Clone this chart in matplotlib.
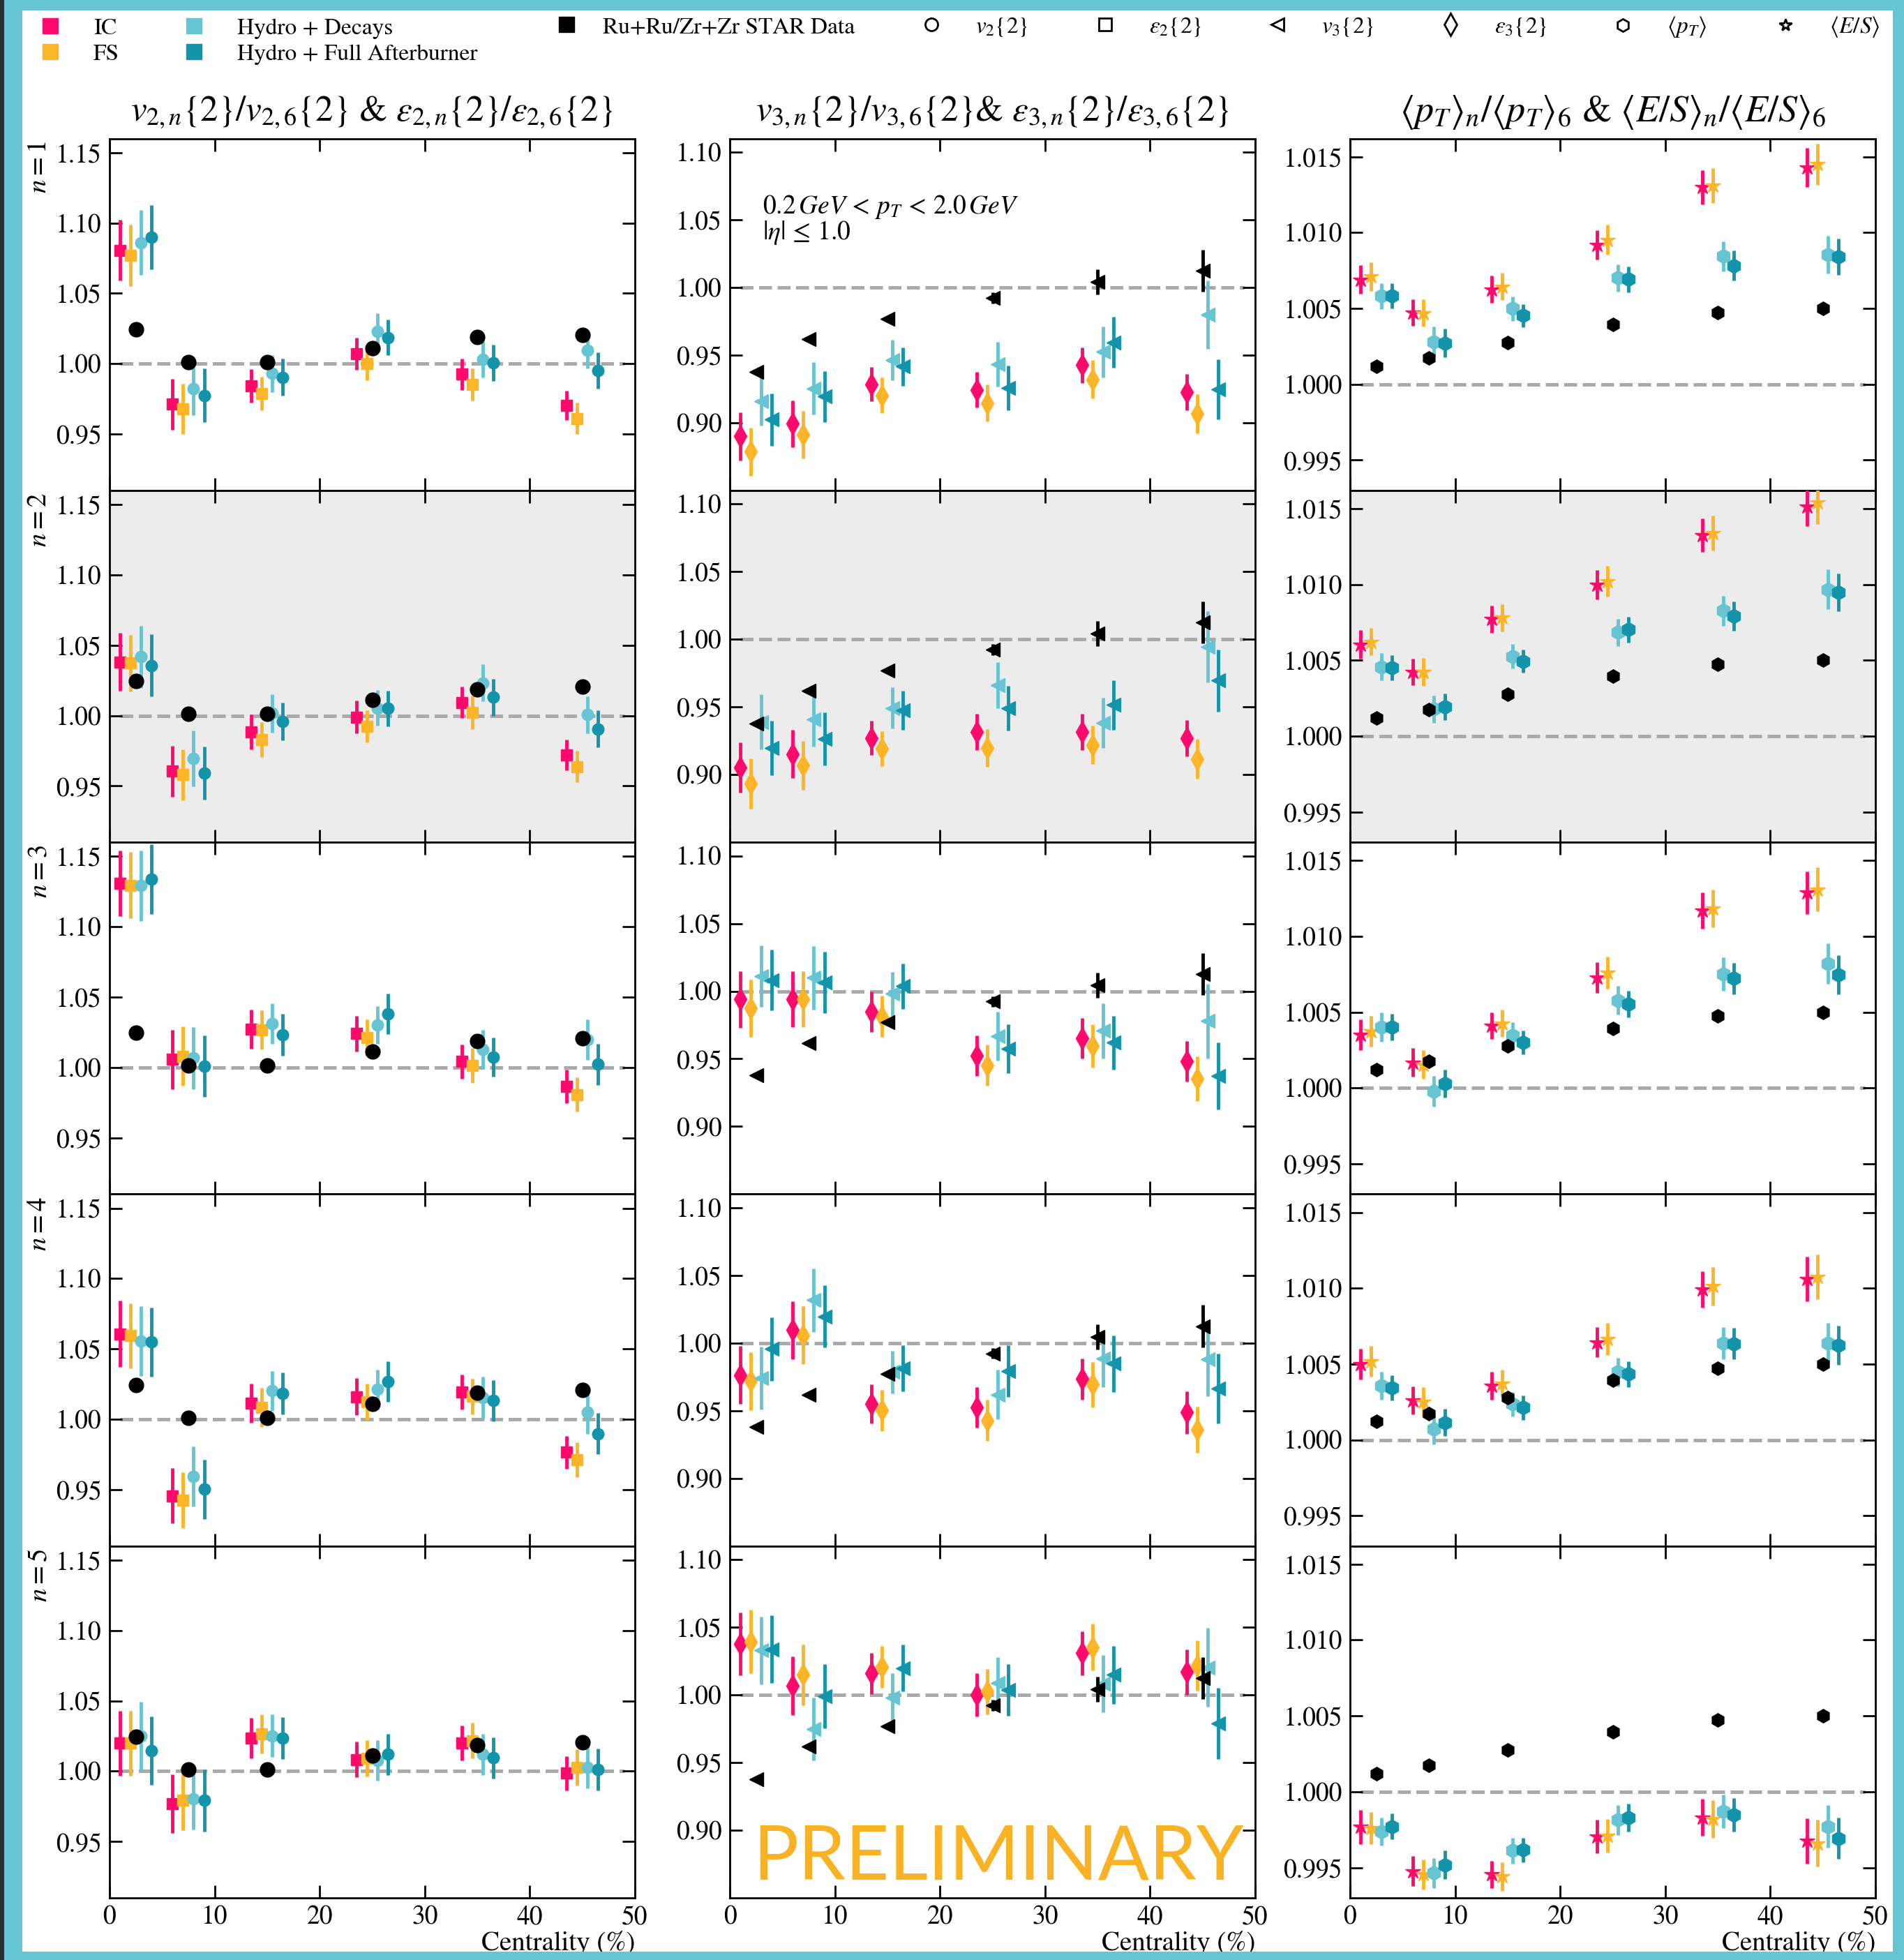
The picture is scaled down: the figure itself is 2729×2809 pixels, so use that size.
import numpy as np
import matplotlib
matplotlib.use("Agg")
import matplotlib.pyplot as plt
from matplotlib.lines import Line2D
from matplotlib.patches import Rectangle

plt.rcParams["font.family"] = "STIXGeneral"
plt.rcParams["mathtext.fontset"] = "stix"

# ── colours ───────────────────────────────────────────────────────────────────
C_IC, C_FS = "#ff0a6c", "#fdb528"
C_DEC, C_FULL = "#67c5d3", "#1494aa"
C_FRAME = "#66c5d3"

# ── data: centrality bins and per-row (n=1..5) values ─────────────────────────
CENT = [2.5, 7.5, 15, 25, 35, 45]
OFFS = [-1.5, -0.5, 0.5, 1.5]          # IC, FS, Decays, Full

# column 1: eps2 (IC, FS) and v2 (hydro)
E2_IC = [[1.0807, 0.9713, 0.9842, 1.0070, 0.9925, 0.9704],
         [1.0382, 0.9605, 0.9883, 0.9990, 1.0094, 0.9721],
         [1.1308, 1.0058, 1.0273, 1.0240, 1.0042, 0.9867],
         [1.0608, 0.9458, 1.0115, 1.0161, 1.0192, 0.9766],
         [1.0200, 0.9769, 1.0235, 1.0084, 1.0200, 0.9986]]
E2_IC_ERR = [[0.0217, 0.018, 0.012, 0.0115, 0.011, 0.0105],
             [0.0205, 0.018, 0.0125, 0.0117, 0.011, 0.011],
             [0.0235, 0.021, 0.014, 0.0127, 0.0123, 0.0118],
             [0.0236, 0.0198, 0.0138, 0.013, 0.0124, 0.0115],
             [0.023, 0.021, 0.0142, 0.0128, 0.0123, 0.0122]]
E2_FS = [[1.0770, 0.9680, 0.9788, 1.0000, 0.9852, 0.9612],
         [1.0373, 0.9580, 0.9831, 0.9925, 1.0023, 0.9637],
         [1.1295, 1.0080, 1.0266, 1.0214, 1.0013, 0.9808],
         [1.0594, 0.9427, 1.0084, 1.0126, 1.0164, 0.9713],
         [1.0200, 0.9793, 1.0266, 1.0091, 1.0217, 1.0028]]
E2_FS_ERR = [[0.0216, 0.018, 0.012, 0.0117, 0.0115, 0.011],
             [0.020, 0.018, 0.0123, 0.0115, 0.0118, 0.0112],
             [0.0234, 0.021, 0.014, 0.0128, 0.0125, 0.0122],
             [0.0232, 0.0198, 0.0138, 0.013, 0.0126, 0.0126],
             [0.023, 0.021, 0.014, 0.013, 0.0126, 0.013]]
V2_DEC = [[1.0860, 0.9825, 0.9930, 1.0229, 1.0030, 1.0095],
          [1.0418, 0.9695, 1.0016, 1.0055, 1.0233, 1.0006],
          [1.1292, 1.0068, 1.0312, 1.0302, 1.0130, 1.0198],
          [1.0556, 0.9594, 1.0203, 1.0213, 1.0154, 1.0049],
          [1.0249, 0.9804, 1.0252, 1.0077, 1.0119, 1.0025]]
V2_DEC_ERR = [[0.023, 0.019, 0.013, 0.0128, 0.0128, 0.0126],
              [0.022, 0.020, 0.0138, 0.0126, 0.013, 0.013],
              [0.025, 0.022, 0.0146, 0.0135, 0.0138, 0.0146],
              [0.0246, 0.0215, 0.0142, 0.0142, 0.0147, 0.015],
              [0.0245, 0.022, 0.015, 0.0144, 0.0147, 0.0149]]
V2_FULL = [[1.0899, 0.9776, 0.9905, 1.0187, 1.0006, 0.9952],
           [1.0356, 0.9592, 0.9958, 1.0052, 1.0130, 0.9906],
           [1.1338, 1.0010, 1.0234, 1.0380, 1.0075, 1.0023],
           [1.0549, 0.9503, 1.0185, 1.0269, 1.0133, 0.9899],
           [1.0147, 0.9793, 1.0235, 1.0119, 1.0095, 1.0011]]
V2_FULL_ERR = [[0.023, 0.019, 0.013, 0.0127, 0.0128, 0.0128],
               [0.022, 0.019, 0.0135, 0.0126, 0.013, 0.013],
               [0.025, 0.022, 0.0148, 0.0143, 0.014, 0.0145],
               [0.0246, 0.021, 0.0149, 0.0143, 0.0145, 0.0145],
               [0.0242, 0.022, 0.015, 0.0144, 0.0145, 0.0149]]
V2_STAR = [1.0245, 1.0013, 1.0013, 1.0112, 1.0188, 1.0207]

# column 2: eps3 (IC, FS) and v3 (hydro)
E3_IC = [[0.8899, 0.8993, 0.9284, 0.9243, 0.9426, 0.9226],
         [0.9051, 0.9153, 0.9271, 0.9315, 0.9315, 0.9271],
         [0.9939, 0.9939, 0.9847, 0.9524, 0.9653, 0.9480],
         [0.9762, 1.0095, 0.9551, 0.9524, 0.9735, 0.9486],
         [1.0378, 1.0068, 1.0158, 1.0002, 1.0308, 1.0168]]
E3_IC_ERR = [[0.0178, 0.0172, 0.0127, 0.0132, 0.0132, 0.0132],
             [0.0186, 0.0178, 0.0127, 0.0134, 0.0134, 0.0134],
             [0.021, 0.0206, 0.0148, 0.015, 0.0148, 0.015],
             [0.0214, 0.0214, 0.0145, 0.0151, 0.0153, 0.0155],
             [0.0233, 0.0217, 0.0154, 0.0159, 0.0162, 0.0167]]
E3_FS = [[0.8787, 0.8912, 0.9203, 0.9145, 0.9321, 0.9068],
         [0.8932, 0.9068, 0.9193, 0.9197, 0.9220, 0.9115],
         [0.9874, 0.9939, 0.9813, 0.9452, 0.9595, 0.9354],
         [0.9718, 1.0058, 0.9503, 0.9429, 0.9694, 0.9360],
         [1.0394, 1.0148, 1.0208, 1.0024, 1.0352, 1.0218]]
E3_FS_ERR = [[0.0177, 0.0174, 0.013, 0.0137, 0.0142, 0.0145],
             [0.0186, 0.0178, 0.013, 0.014, 0.0141, 0.0147],
             [0.021, 0.0207, 0.0151, 0.0153, 0.0158, 0.0165],
             [0.0214, 0.0213, 0.0153, 0.0153, 0.0167, 0.017],
             [0.0234, 0.0225, 0.0155, 0.0167, 0.0173, 0.0185]]
V3_DEC = [[0.9159, 0.9253, 0.9463, 0.9432, 0.9524, 0.9797],
          [0.9390, 0.9407, 0.9492, 0.9661, 0.9383, 0.9946],
          [1.0112, 1.0099, 0.9980, 0.9667, 0.9707, 0.9779],
          [0.9741, 1.0316, 0.9786, 0.9619, 0.9884, 0.9878],
          [1.0328, 0.9748, 0.9982, 1.0088, 1.0082, 1.0204]]
V3_DEC_ERR = [[0.018, 0.0193, 0.0149, 0.0166, 0.0188, 0.0253],
              [0.0203, 0.0198, 0.0153, 0.017, 0.0185, 0.0263],
              [0.0228, 0.0235, 0.0162, 0.0179, 0.0204, 0.0276],
              [0.023, 0.0236, 0.0158, 0.0182, 0.0209, 0.0272],
              [0.025, 0.023, 0.018, 0.019, 0.0212, 0.029]]
V3_FULL = [[0.9024, 0.9193, 0.9416, 0.9257, 0.9595, 0.9247],
           [0.9197, 0.9264, 0.9475, 0.9492, 0.9515, 0.9695],
           [1.0082, 1.0065, 1.0037, 0.9575, 0.9619, 0.9374],
           [0.9956, 1.0197, 0.9813, 0.9793, 0.9847, 0.9663],
           [1.0338, 0.9988, 1.0198, 1.0038, 1.0148, 0.9788]]
V3_FULL_ERR = [[0.0194, 0.019, 0.0142, 0.0164, 0.0186, 0.0223],
               [0.02, 0.0195, 0.0146, 0.0166, 0.0183, 0.0229],
               [0.0223, 0.0228, 0.0167, 0.018, 0.02, 0.0248],
               [0.0235, 0.023, 0.017, 0.0189, 0.0207, 0.0258],
               [0.0248, 0.0237, 0.0174, 0.019, 0.0213, 0.0263]]
V3_STAR = [0.9378, 0.9618, 0.9770, 0.9923, 1.0043, 1.0125]
V3_STAR_ERR = [0.001, 0.0012, 0.0015, 0.004, 0.0093, 0.0155]

# column 3: <E/S> (IC, FS) and <pT> (hydro)
ES_IC = [[1.00690, 1.00472, 1.00626, 1.00917, 1.01300, 1.01430],
         [1.00605, 1.00423, 1.00771, 1.00998, 1.01325, 1.01515],
         [1.00351, 1.00169, 1.00411, 1.00729, 1.01168, 1.01289],
         [1.00499, 1.00260, 1.00357, 1.00644, 1.00992, 1.01059],
         [0.99768, 0.99477, 0.99455, 0.99705, 0.99830, 0.99675]]
ES_IC_ERR = [[0.00095, 0.00088, 0.0009, 0.00097, 0.00112, 0.0013],
             [0.00095, 0.00088, 0.0009, 0.00095, 0.0011, 0.0013],
             [0.001, 0.00094, 0.00088, 0.001, 0.0012, 0.0014],
             [0.001, 0.0009, 0.0009, 0.001, 0.0012, 0.00147],
             [0.00112, 0.00097, 0.00091, 0.00109, 0.00122, 0.0015]]
ES_FS = [[1.00710, 1.00469, 1.00644, 1.00953, 1.01310, 1.01452],
         [1.00623, 1.00423, 1.00780, 1.01022, 1.01340, 1.01540],
         [1.00375, 1.00154, 1.00426, 1.00759, 1.01183, 1.01310],
         [1.00517, 1.00251, 1.00372, 1.00665, 1.01013, 1.01074],
         [0.99759, 0.99455, 0.99441, 0.99709, 0.99821, 0.99661]]
ES_FS_ERR = [[0.00094, 0.0009, 0.0009, 0.001, 0.00114, 0.00136],
             [0.0009, 0.0009, 0.0009, 0.001, 0.00115, 0.0014],
             [0.001, 0.00095, 0.0009, 0.00105, 0.00125, 0.00145],
             [0.001, 0.00095, 0.0009, 0.00106, 0.00125, 0.00148],
             [0.00105, 0.001, 0.00094, 0.00112, 0.00125, 0.00154]]
PT_DEC = [[1.00581, 1.00281, 1.00499, 1.00702, 1.00844, 1.00853],
          [1.00457, 1.00178, 1.00526, 1.00684, 1.00826, 1.00968],
          [1.00402, 0.99979, 1.00345, 1.00578, 1.00750, 1.00820],
          [1.00357, 1.00070, 1.00236, 1.00448, 1.00638, 1.00638],
          [0.99736, 0.99464, 0.99611, 0.99813, 0.99870, 0.99771]]
PT_DEC_ERR = [[0.00087, 0.00098, 0.0008, 0.0009, 0.001, 0.00124],
              [0.0009, 0.0009, 0.0008, 0.0009, 0.001, 0.0013],
              [0.00095, 0.001, 0.00088, 0.00094, 0.0011, 0.00133],
              [0.0009, 0.001, 0.0008, 0.00094, 0.00106, 0.00135],
              [0.00092, 0.001, 0.00085, 0.00098, 0.00112, 0.00142]]
PT_FULL = [[1.00584, 1.00272, 1.00454, 1.00693, 1.00783, 1.00841],
           [1.00451, 1.00194, 1.00493, 1.00702, 1.00790, 1.00947],
           [1.00402, 1.00027, 1.00300, 1.00554, 1.00723, 1.00747],
           [1.00342, 1.00115, 1.00212, 1.00433, 1.00635, 1.00623],
           [0.99771, 0.99518, 0.99616, 0.99830, 0.99848, 0.99693]]
PT_FULL_ERR = [[0.00083, 0.00095, 0.00076, 0.00085, 0.00098, 0.0012],
               [0.00083, 0.00087, 0.00076, 0.00085, 0.00097, 0.00125],
               [0.00086, 0.00092, 0.00079, 0.00087, 0.00104, 0.00128],
               [0.00083, 0.0009, 0.0008, 0.00085, 0.00103, 0.00129],
               [0.00085, 0.00094, 0.0008, 0.00093, 0.0011, 0.00137]]
PT_STAR = [1.00120, 1.00174, 1.00277, 1.00394, 1.00473, 1.00500]

COL_TITLES = [
    r"$v_{2,n}\{2\}/v_{2,6}\{2\}$ & $\varepsilon_{2,n}\{2\}/\varepsilon_{2,6}\{2\}$",
    r"$v_{3,n}\{2\}/v_{3,6}\{2\}$& $\varepsilon_{3,n}\{2\}/\varepsilon_{3,6}\{2\}$",
    r"$\langle p_T\rangle_n/\langle p_T\rangle_6$ & $\langle E/S\rangle_n/\langle E/S\rangle_6$",
]
TITLE_SIZES = [37, 37, 39]
YLIMS = [(0.91, 1.16), (0.85, 1.11), (0.993, 1.0162)]
YTICKS = [[0.95, 1.00, 1.05, 1.10, 1.15],
          [0.90, 0.95, 1.00, 1.05, 1.10],
          [0.995, 1.000, 1.005, 1.010, 1.015]]
YFMT = ["{:.2f}", "{:.2f}", "{:.3f}"]

# per column: (model arrays, model markers, STAR values, STAR errors, STAR marker)
COLUMNS = [
    ([(E2_IC, E2_IC_ERR), (E2_FS, E2_FS_ERR), (V2_DEC, V2_DEC_ERR), (V2_FULL, V2_FULL_ERR)],
     ["s", "s", "o", "o"], [12, 12, 12, 12], V2_STAR, None, "o", 15),
    ([(E3_IC, E3_IC_ERR), (E3_FS, E3_FS_ERR), (V3_DEC, V3_DEC_ERR), (V3_FULL, V3_FULL_ERR)],
     ["d", "d", "<", "<"], [16, 16, 15, 15], V3_STAR, V3_STAR_ERR, "<", 15),
    ([(ES_IC, ES_IC_ERR), (ES_FS, ES_FS_ERR), (PT_DEC, PT_DEC_ERR), (PT_FULL, PT_FULL_ERR)],
     ["*", "*", "h", "h"], [16, 16, 15, 15], PT_STAR, None, "h", 14),
]
MODEL_COLORS = [C_IC, C_FS, C_DEC, C_FULL]

# ── layout (figure fractions) ─────────────────────────────────────────────────
W, H = 2729, 2809
fig = plt.figure(figsize=(W / 100, H / 100), dpi=100)
fig.patch.set_facecolor("white")

LEFTS = [157 / W, 1046 / W, 1935 / W]
AX_W = 753 / W
BOTTOM = 1 - 2720 / H
ROW_H = (2720 - 198.6) / 5 / H

cent = np.array(CENT)
for c, (models, markers, msizes, star, star_err, star_mk, star_ms) in enumerate(COLUMNS):
    for r in range(5):
        ax = fig.add_axes([LEFTS[c], BOTTOM + (4 - r) * ROW_H, AX_W, ROW_H])
        if r == 1:
            ax.set_facecolor("#ececec")
        ax.plot([1, 49], [1, 1], ls="--", color="#aaaaaa", lw=3.6, zorder=1)
        for k, ((vals, errs), col) in enumerate(zip(models, MODEL_COLORS)):
            ax.errorbar(cent + OFFS[k], vals[r], yerr=errs[r], fmt=markers[k],
                        color=col, mec=col, ms=msizes[k], elinewidth=3.5,
                        capsize=0, zorder=3 + k)
        ax.errorbar(cent, star, yerr=star_err, fmt=star_mk, color="black",
                    ms=star_ms, elinewidth=3.5, capsize=0, zorder=10)

        ax.set_xlim(0, 50)
        ax.set_ylim(*YLIMS[c])
        ax.set_xticks([0, 10, 20, 30, 40, 50])
        ax.set_yticks(YTICKS[c])
        ax.set_yticklabels([YFMT[c].format(v) for v in YTICKS[c]])
        ax.tick_params(direction="in", length=13, width=2, top=True, right=True,
                       labelsize=27, pad=8)
        for s in ax.spines.values():
            s.set_linewidth(2)
        if r < 4:
            ax.tick_params(labelbottom=False)
        else:
            ax.set_xlabel("Centrality (%)", loc="right", fontsize=28, labelpad=1)
        if r == 0:
            ax.text(0.5, 1 + (198.6 - 161) / 504, COL_TITLES[c], transform=ax.transAxes,
                    ha="center", va="center", fontsize=TITLE_SIZES[c])
        if c == 0:
            ax.text(-0.133, 0.993, rf"$n={r + 1}$", transform=ax.transAxes,
                    rotation=90, ha="center", va="top", fontsize=28)
        if c == 1 and r == 0:
            ax.text(0.062, 0.845, r"$0.2\,GeV\,<\,p_T\,<\,2.0\,GeV$" + "\n" + r"$|\eta|\,\leq\,1.0$",
                    transform=ax.transAxes, ha="left", va="top", fontsize=27,
                    linespacing=0.95)
        if c == 1 and r == 4:
            ax.text(0.511, 0.053, "PRELIMINARY", transform=ax.transAxes,
                    ha="center", va="baseline", fontsize=78, color="#f9b224",
                    family="Lato", zorder=20)

# ── legends ───────────────────────────────────────────────────────────────────
def sq(col, ms=16, **kw):
    return Line2D([], [], marker="s", ls="none", color=col, mec=col, ms=ms, **kw)

EM = 24 * 100 / 72     # legend font size in px
leg1 = fig.legend(handles=[sq(C_IC), sq(C_FS), sq(C_DEC), sq(C_FULL)],
                  labels=["IC", "FS", "Hydro + Decays", "Hydro + Full Afterburner"],
                  ncol=2, loc="center left", bbox_to_anchor=((72 - 0.6 * EM) / W, 1 - 59 / H),
                  frameon=False, fontsize=24, handlelength=1.2, handletextpad=1.26,
                  columnspacing=2.6, labelspacing=0.2, borderpad=0, borderaxespad=0)
leg2 = fig.legend(handles=[sq("black")], labels=["Ru+Ru/Zr+Zr STAR Data"],
                  loc="center left", bbox_to_anchor=((812 - 0.6 * EM) / W, 1 - 39 / H),
                  frameon=False, fontsize=24, handlelength=1.2, handletextpad=0.96,
                  borderpad=0, borderaxespad=0)

OPEN_MARKERS = ["o", "s", "<", "d", "h", "*"]
OPEN_LABELS = [r"$v_2\{2\}$", r"$\varepsilon_2\{2\}$", r"$v_3\{2\}$",
               r"$\varepsilon_3\{2\}$", r"$\langle p_T\rangle$", r"$\langle E/S\rangle$"]
OPEN_X = [1335, 1584, 1831, 2079, 2326, 2559]
for mk, lab, mx in zip(OPEN_MARKERS, OPEN_LABELS, OPEN_X):
    h = Line2D([], [], marker=mk, ls="none", mfc="white", mec="black", mew=2,
               ms=16 if mk == "d" else 13)
    fig.legend(handles=[h], labels=[lab], loc="center left",
               bbox_to_anchor=((mx - 0.6 * EM) / W, 1 - 39 / H), frameon=False,
               fontsize=24, handlelength=1.2, handletextpad=1.3,
               borderpad=0, borderaxespad=0)

# ── coloured frame ────────────────────────────────────────────────────────────
def frame(x0, y0, w, h, col=C_FRAME):
    fig.add_artist(Rectangle((x0 / W, 1 - (y0 + h) / H), w / W, h / H,
                             transform=fig.transFigure, color=col, lw=0, zorder=50))

frame(0, 0, W, 15)
frame(0, 2797, W, 12)
frame(0, 0, 32, H)
frame(2713, 0, 16, H)
frame(0, 0, 6, H, "#2a2e33")

fig.savefig("out.png", dpi=100)
